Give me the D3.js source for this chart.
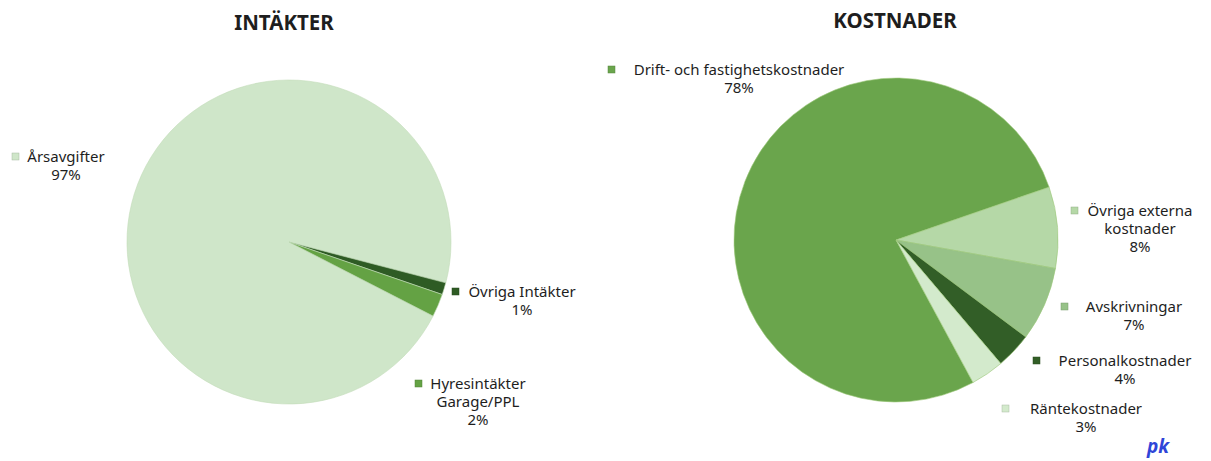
<!DOCTYPE html>
<html>
<head>
<meta charset="utf-8">
<script src="https://cdn.jsdelivr.net/npm/d3@7"></script>
<style>
  html, body { margin: 0; padding: 0; background: #fff; }
  svg { display: block; }
  text { font-family: "Noto Sans", sans-serif; fill: #1e1e1e; }
</style>
</head>
<body>
<div id="chart"></div>
<script>
// data
const incomeTitle = 'INTÄKTER';
const incomeCategories = ['Årsavgifter', 'Övriga Intäkter', 'Hyresintäkter\nGarage/PPL'];
const incomeValues = [96.5, 1.2, 2.3];
const incomeColors = ['#cfe6c9', '#2e5b24', '#64a244'];

const costTitle = 'KOSTNADER';
const costCategories = ['Drift- och fastighetskostnader', 'Övriga externa\nkostnader', 'Avskrivningar', 'Personalkostnader', 'Räntekostnader'];
const costValues = [77.6, 8.1, 7.4, 3.6, 3.3];
const costColors = ['#6aa54c', '#b5d8a7', '#97c288', '#325e27', '#d3eacc'];

// initialization
const width = 1211;
const height = 461;

const svg = d3.select('#chart').append('svg')
    .attr('width', width)
    .attr('height', height);

function PieChart(opts) {
    const g = svg.append('g');

    const deg = Math.PI / 180;
    const pie = d3.pie()
        .sort(null)
        .startAngle(opts.start * deg)
        .endAngle((opts.start + 360) * deg);

    const arc = d3.arc()
        .innerRadius(0)
        .outerRadius(opts.r);

    const colorScale = d3.scaleOrdinal()
        .domain(opts.categories)
        .range(opts.colors);

    const total = d3.sum(opts.values);
    const arcs = pie(opts.values);

    g.append('text')
        .attr('x', opts.titleX)
        .attr('y', opts.titleY)
        .attr('text-anchor', 'middle')
        .style('font-size', '20.5px')
        .style('font-weight', 'bold')
        .text(opts.title);

    const slices = g.append('g')
        .attr('transform', 'translate(' + opts.cx + ',' + opts.cy + ')');

    slices.selectAll('path')
        .data(arcs)
        .join('path')
        .attr('d', arc)
        .attr('fill', (d, i) => colorScale(opts.categories[i]))
        .attr('stroke', opts.edge)
        .attr('stroke-width', 0.6);

    // labels
    const labels = g.selectAll('g.label')
        .data(arcs)
        .join('g')
        .attr('class', 'label');

    labels.each(function(d, i) {
        const pos = opts.labelPos[i];
        const lines = opts.categories[i].split('\n')
            .concat([Math.round(d.value / total * 100) + '%']);
        const el = d3.select(this);
        el.append('rect')
            .attr('x', pos.mx)
            .attr('y', pos.y - 9)
            .attr('width', 7)
            .attr('height', 7)
            .attr('fill', colorScale(opts.categories[i]))
            .attr('stroke', d3.color(colorScale(opts.categories[i])).darker(0.6))
            .attr('stroke-width', 0.5);
        el.selectAll('text')
            .data(lines)
            .join('text')
            .attr('x', pos.x)
            .attr('y', (t, k) => pos.y + k * 18)
            .attr('text-anchor', 'middle')
            .style('font-size', '15px')
            .text(t => t);
    });
}

PieChart({
    title: incomeTitle, titleX: 284, titleY: 30,
    categories: incomeCategories, values: incomeValues, colors: incomeColors,
    cx: 289, cy: 242, r: 162, start: 117.2, edge: '#c2dcb8',
    labelPos: [
        {x: 66, y: 162, mx: 12},
        {x: 522, y: 297, mx: 452},
        {x: 478, y: 389, mx: 415}
    ]
});

PieChart({
    title: costTitle, titleX: 895, titleY: 28,
    categories: costCategories, values: costValues, colors: costColors,
    cx: 896, cy: 240, r: 162, start: 151.6, edge: '#9cc878',
    labelPos: [
        {x: 739, y: 75, mx: 608},
        {x: 1140, y: 216, mx: 1071},
        {x: 1134, y: 312, mx: 1061},
        {x: 1125, y: 366, mx: 1033},
        {x: 1086, y: 414, mx: 1002}
    ]
});

// signature mark
svg.append('text')
    .attr('x', 1147)
    .attr('y', 453)
    .style('font-size', '19px')
    .style('font-style', 'italic')
    .style('font-weight', 'bold')
    .style('fill', '#2f45d8')
    .text('pk');
</script>
</body>
</html>
